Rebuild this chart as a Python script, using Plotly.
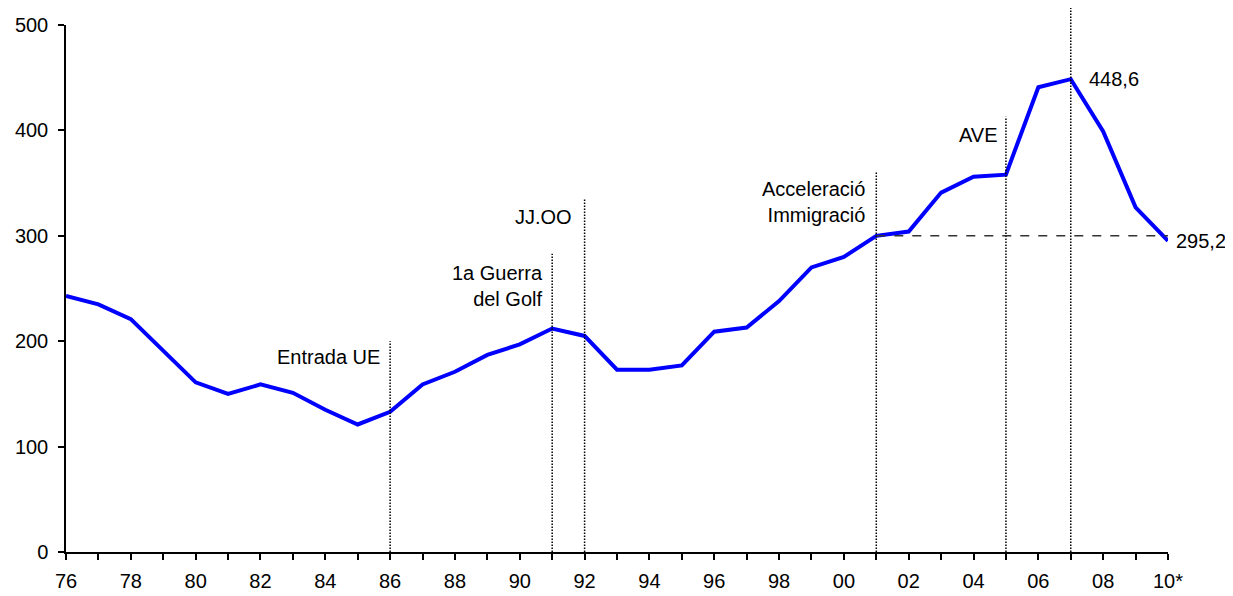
import plotly.graph_objects as go

YEARS = list(range(1976, 2011))
VALUES = [
    243, 235, 221, 191, 161, 150, 159, 151, 135, 121,
    133, 159, 171, 187, 197, 212, 205, 173, 173, 177,
    209, 213, 238, 270, 280, 300, 304, 341, 356, 358,
    441, 448.6, 399, 327, 295.2,
]
TICK_LABELS = [
    "76", "", "78", "", "80", "", "82", "", "84", "", "86", "", "88", "", "90", "",
    "92", "", "94", "", "96", "", "98", "", "00", "", "02", "", "04", "", "06", "",
    "08", "", "10*",
]

# event markers: year, top of dotted line, label, label height (data units)
EVENT_YEARS = [1986, 1991, 1992, 2001, 2005, 2007]
EVENT_TOPS = [200, 283, 335, 360, 413, 517]
EVENT_LABELS = ["Entrada UE", "1a Guerra<br>del Golf", "JJ.OO",
                "Acceleració<br>Immigració", "AVE", "Crisi"]
EVENT_LABEL_Y = [185, 252, 318, 332, 396, 503]
EVENT_SHIFT = [-8, -7, -11, -9, -6, -13]

Y_MAX = 500
FONT = "Liberation Sans, Arial, sans-serif"

fig = go.Figure()
fig.add_trace(go.Scatter(
    x=YEARS, y=VALUES, mode="lines",
    line=dict(color="#0000FF", width=4),
    hoverinfo="skip", showlegend=False,
))

# dotted event lines (y in paper units so the Crisi line can rise above the plot)
for yr, top in zip(EVENT_YEARS, EVENT_TOPS):
    fig.add_shape(type="line", xref="x", yref="paper",
                  x0=yr, x1=yr, y0=0, y1=top / Y_MAX,
                  line=dict(color="black", width=1.5, dash="1.5px,1.5px"))

# dashed reference from the 2001 level to the last year
level = VALUES[YEARS.index(2001)]
fig.add_shape(type="line", xref="x", yref="y",
              x0=2001, x1=YEARS[-1], y0=level, y1=level,
              line=dict(color="#333333", width=1.5, dash="dash"))

for yr, txt, ly, sh in zip(EVENT_YEARS, EVENT_LABELS, EVENT_LABEL_Y, EVENT_SHIFT):
    fig.add_annotation(x=yr, y=ly, text=txt, showarrow=False,
                       xanchor="right", yanchor="middle", align="right",
                       xshift=sh, font=dict(size=20, color="black", family=FONT))

fig.add_annotation(x=2007, y=VALUES[YEARS.index(2007)], text="448,6",
                   showarrow=False, xanchor="left", yanchor="middle", xshift=16,
                   font=dict(size=20, color="black", family=FONT))
fig.add_annotation(x=YEARS[-1], y=VALUES[-1], text="295,2",
                   showarrow=False, xanchor="left", yanchor="middle", xshift=6,
                   font=dict(size=20, color="black", family=FONT))

# margins offset for the 8px page margin around the plot div
fig.update_layout(
    width=1233, height=596,
    margin=dict(l=58, r=73, t=17, b=52, autoexpand=False),
    plot_bgcolor="white", paper_bgcolor="white",
    font=dict(family=FONT, size=20, color="black"),
    showlegend=False,
    xaxis=dict(
        range=[YEARS[0], YEARS[-1]],
        tickmode="array", tickvals=YEARS, ticktext=TICK_LABELS,
        showline=True, linecolor="black", linewidth=1.5,
        ticks="outside", ticklen=6, tickwidth=1.5, tickcolor="black",
        ticklabelstandoff=4,
        showgrid=False, zeroline=False,
    ),
    yaxis=dict(
        range=[0, Y_MAX], tickmode="linear", dtick=100,
        showline=True, linecolor="black", linewidth=1.5,
        ticks="outside", ticklen=6, tickwidth=1.5, tickcolor="black",
        ticklabelstandoff=6,
        showgrid=False, zeroline=False,
    ),
)

fig.write_html("out.html")
